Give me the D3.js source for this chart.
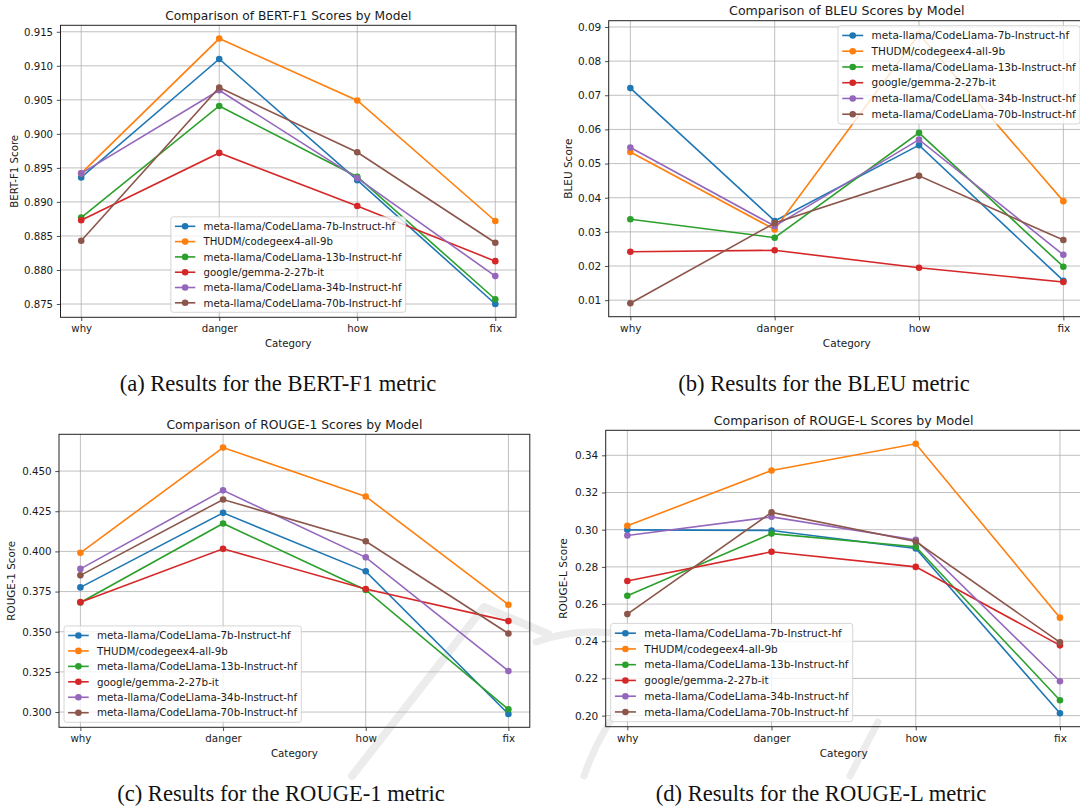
<!DOCTYPE html>
<html>
<head>
<meta charset="utf-8">
<script src="https://cdn.jsdelivr.net/npm/d3@7"></script>
<style>
body { margin: 0; background: #fff; }
svg text { font-family: "DejaVu Sans", sans-serif; fill: #1a1a1a; }
svg text.caption { font-family: "Liberation Serif", "Times New Roman", serif; fill: #111; }
</style>
</head>
<body>
<svg id="fig" width="1080" height="809"></svg>
<script>
// categories + models
const categories = ["why", "danger", "how", "fix"];
const models = [
  "meta-llama/CodeLlama-7b-Instruct-hf",
  "THUDM/codegeex4-all-9b",
  "meta-llama/CodeLlama-13b-Instruct-hf",
  "google/gemma-2-27b-it",
  "meta-llama/CodeLlama-34b-Instruct-hf",
  "meta-llama/CodeLlama-70b-Instruct-hf"
];
const colors = ["#1f77b4", "#ff7f0e", "#2ca02c", "#d62728", "#9467bd", "#8c564b"];

// one row per model, values for why / danger / how / fix
const bertF1 = [
  [0.8936, 0.9110, 0.8932, 0.8750],
  [0.8942, 0.9140, 0.9049, 0.8872],
  [0.8877, 0.9041, 0.8937, 0.8757],
  [0.8873, 0.8972, 0.8894, 0.8813],
  [0.8942, 0.9064, 0.8935, 0.8791],
  [0.8843, 0.9068, 0.8973, 0.8840]
];
const bleu = [
  [0.0721, 0.0332, 0.0554, 0.0157],
  [0.0534, 0.0307, 0.0879, 0.0390],
  [0.0337, 0.0283, 0.0590, 0.0198],
  [0.0242, 0.0246, 0.0195, 0.0153],
  [0.0547, 0.0317, 0.0570, 0.0233],
  [0.0091, 0.0326, 0.0464, 0.0276]
];
const rouge1 = [
  [0.3776, 0.4240, 0.3876, 0.2988],
  [0.3991, 0.4646, 0.4342, 0.3668],
  [0.3682, 0.4174, 0.3760, 0.3017],
  [0.3684, 0.4016, 0.3766, 0.3566],
  [0.3891, 0.4380, 0.3963, 0.3256],
  [0.3851, 0.4323, 0.4063, 0.3489]
];
const rougeL = [
  [0.2999, 0.2996, 0.2899, 0.2013],
  [0.3021, 0.3318, 0.3462, 0.2527],
  [0.2645, 0.2979, 0.2908, 0.2083],
  [0.2724, 0.2881, 0.2800, 0.2378],
  [0.2969, 0.3069, 0.2945, 0.2185],
  [0.2546, 0.3093, 0.2936, 0.2394]
];

// tick labels
const bertTicks = [0.875, 0.880, 0.885, 0.890, 0.895, 0.900, 0.905, 0.910, 0.915];
const bleuTicks = [0.01, 0.02, 0.03, 0.04, 0.05, 0.06, 0.07, 0.08, 0.09];
const rouge1Ticks = [0.300, 0.325, 0.350, 0.375, 0.400, 0.425, 0.450];
const rougeLTicks = [0.20, 0.22, 0.24, 0.26, 0.28, 0.30, 0.32, 0.34];

const titles = ["Comparison of BERT-F1 Scores by Model", "Comparison of BLEU Scores by Model",
  "Comparison of ROUGE-1 Scores by Model", "Comparison of ROUGE-L Scores by Model"];
const yLabels = ["BERT-F1 Score", "BLEU Score", "ROUGE-1 Score", "ROUGE-L Score"];
const captions = ["(a) Results for the BERT-F1 metric", "(b) Results for the BLEU metric",
  "(c) Results for the ROUGE-1 metric", "(d) Results for the ROUGE-L metric"];

// layout of the four subplots (pixels)
const panels = [
  {data: bertF1, ticks: bertTicks, fmt: ".3f", left: 60.5, right: 516, top: 25.3, bottom: 317.3,
   fs: 10.2, ylabX: 14, legend: "lower center", capX: 278, capY: 391},
  {data: bleu, ticks: bleuTicks, fmt: ".2f", left: 608.7, right: 1085, top: 20.7, bottom: 316.7,
   fs: 10.5, ylabX: 568.3, legend: "upper right", capX: 824, capY: 391},
  {data: rouge1, ticks: rouge1Ticks, fmt: ".3f", left: 59, right: 529.8, top: 434.3, bottom: 727.3,
   fs: 10.3, ylabX: 11.7, legend: "lower left", capX: 281, capY: 801},
  {data: rougeL, ticks: rougeLTicks, fmt: ".2f", left: 605.7, right: 1081.6, top: 430.3, bottom: 726.7,
   fs: 10.5, ylabX: 563.3, legend: "lower left", capX: 821, capY: 801}
];

const svg = d3.select("#fig");
svg.append("rect").attr("width", 1080).attr("height", 809).attr("fill", "#fff");

// faint watermark of the page behind the figure
const wm = svg.append("g").attr("fill", "none").attr("stroke", "#ececec")
  .attr("stroke-linejoin", "round").attr("stroke-linecap", "round");
wm.append("path").attr("d", "M352,776 L484,607 L548,634").attr("stroke-width", 8);
wm.append("path").attr("d", "M536,642 Q585,624 640,638").attr("stroke-width", 7);
wm.append("path").attr("d", "M626,698 Q598,735 584,776").attr("stroke-width", 7);
wm.append("path").attr("d", "M878,722 L850,776").attr("stroke-width", 7);

panels.forEach((p, k) => {
  const g = svg.append("g");
  const fs = p.fs;
  const x = d3.scalePoint().domain(categories).range([p.left, p.right]).padding(0.15);
  // matplotlib style 5% margins
  const all = p.data.flat();
  const lo = d3.min(all), hi = d3.max(all), r = hi - lo;
  const y = d3.scaleLinear().domain([lo - 0.05 * r, hi + 0.05 * r]).range([p.bottom, p.top]);

  // grid
  g.append("g").selectAll("line").data(p.ticks).join("line")
    .attr("x1", p.left).attr("x2", p.right)
    .attr("y1", d => y(d)).attr("y2", d => y(d))
    .attr("stroke", "#b0b0b0").attr("stroke-width", 0.8);
  g.append("g").selectAll("line").data(categories).join("line")
    .attr("x1", d => x(d)).attr("x2", d => x(d))
    .attr("y1", p.top).attr("y2", p.bottom)
    .attr("stroke", "#b0b0b0").attr("stroke-width", 0.8);

  // lines + markers
  const line = d3.line().x((d, i) => x(categories[i])).y(d => y(d));
  p.data.forEach((vals, m) => {
    g.append("path").attr("d", line(vals)).attr("fill", "none")
      .attr("stroke", colors[m]).attr("stroke-width", 1.6);
    g.append("g").selectAll("circle").data(vals).join("circle")
      .attr("cx", (d, i) => x(categories[i])).attr("cy", d => y(d))
      .attr("r", 3.3).attr("fill", colors[m]);
  });

  // axes
  const ay = g.append("g").attr("transform", "translate(" + p.left + ",0)")
    .call(d3.axisLeft(y).tickValues(p.ticks).tickFormat(d3.format(p.fmt)).tickSize(3.7).tickPadding(3.7));
  const ax = g.append("g").attr("transform", "translate(0," + p.bottom + ")")
    .call(d3.axisBottom(x).tickSize(3.7).tickPadding(3.7));
  [ay, ax].forEach(a => {
    a.select(".domain").remove();
    a.selectAll(".tick line").attr("stroke", "#222").attr("stroke-width", 0.8);
    a.selectAll(".tick text").attr("font-size", fs).attr("fill", "#1a1a1a")
      .style("font-family", "DejaVu Sans");
  });

  // frame
  g.append("rect").attr("x", p.left).attr("y", p.top)
    .attr("width", p.right - p.left).attr("height", p.bottom - p.top)
    .attr("fill", "none").attr("stroke", "#222").attr("stroke-width", 1);

  // labels
  g.append("text").attr("x", (p.left + p.right) / 2).attr("y", p.top - 5.8)
    .attr("text-anchor", "middle").attr("font-size", fs * 1.2).text(titles[k]);
  g.append("text").attr("x", (p.left + p.right) / 2).attr("y", p.bottom + 30)
    .attr("text-anchor", "middle").attr("font-size", fs).text("Category");
  g.append("text")
    .attr("transform", "translate(" + p.ylabX + "," + (p.top + p.bottom) / 2 + ") rotate(-90)")
    .attr("text-anchor", "middle").attr("dy", "0.35em").attr("font-size", fs).text(yLabels[k]);

  // legend
  const leg = g.append("g");
  const box = leg.append("rect").attr("fill", "#fff").attr("fill-opacity", 0.8)
    .attr("stroke", "#cccccc").attr("stroke-width", 0.8).attr("rx", 2.5);
  const rowH = fs * 1.5;
  const items = leg.selectAll("g").data(models).join("g")
    .attr("transform", (d, i) => "translate(0," + (0.93 * fs + i * rowH) + ")");
  items.append("line").attr("x1", 0.4 * fs).attr("x2", 2.4 * fs)
    .attr("stroke", (d, i) => colors[i]).attr("stroke-width", 1.6);
  items.append("circle").attr("cx", 1.4 * fs).attr("r", 3.3).attr("fill", (d, i) => colors[i]);
  const txt = items.append("text").attr("x", 3.2 * fs).attr("dy", "0.36em")
    .attr("font-size", fs).text(d => d);
  let tw = 0;
  txt.each(function() { tw = Math.max(tw, this.getComputedTextLength()); });
  const bw = 3.2 * fs + tw + 0.4 * fs;
  const bh = 5 * rowH + 1.86 * fs;
  box.attr("width", bw).attr("height", bh);
  let lx, ly;
  const gap = 5;
  if (p.legend === "lower center") { lx = (p.left + p.right) / 2 - bw / 2; ly = p.bottom - gap - bh; }
  else if (p.legend === "upper right") { lx = p.right - gap - bw; ly = p.top + gap; }
  else { lx = p.left + gap; ly = p.bottom - gap - bh; }
  leg.attr("transform", "translate(" + lx + "," + ly + ")");

  // caption (the paper font is a bit condensed)
  const cap = svg.append("text").attr("class", "caption").attr("x", p.capX).attr("y", p.capY)
    .attr("text-anchor", "middle").attr("font-size", 24).text(captions[k]);
  const cl = cap.node().getComputedTextLength();
  cap.attr("textLength", cl * 0.94).attr("lengthAdjust", "spacingAndGlyphs");
});
</script>
</body>
</html>
